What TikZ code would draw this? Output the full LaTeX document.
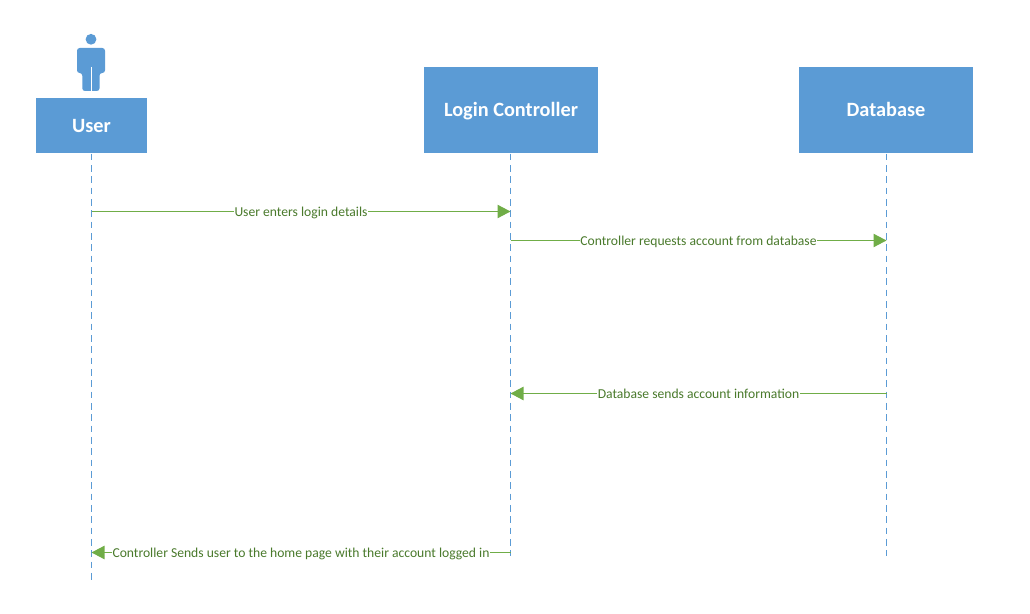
\documentclass[tikz,border=0pt]{standalone}
\usepackage{fontspec}
\setmainfont{Carlito}
\usetikzlibrary{positioning,calc,arrows.meta}
\definecolor{boxblue}{HTML}{5B9BD5}
\definecolor{msggreen}{HTML}{70AD47}
\definecolor{msgtext}{HTML}{4A7A2C}
\tikzset{
	actor/.style={fill=boxblue, text=white, font=\fontsize{11.55}{13}\selectfont\bfseries, minimum height=#1, inner sep=0pt, text height=9.7pt, text depth=2.6pt, anchor=north},
	lifeline/.style={draw=boxblue, line width=0.6pt, dash pattern=on 3.8pt off 2.65pt},
	message/.style={draw=msggreen, line width=0.6pt, -{Triangle[length=7.4pt,width=7.6pt]}},
	msglabel/.style={fill=white, text=msgtext, font=\fontsize{7.75}{9}\selectfont, inner xsep=0.5pt, inner ysep=1pt, text height=5.6pt, text depth=0pt}
}
\begin{document}
\begin{tikzpicture}[x=0.02cm, y=-0.02cm]
				
				% page
				\useasboundingbox (0,0) rectangle (1030,614);
				
				% one lifeline under box #1 at x #2, down to y #3, end named #4
				\newcommand{\lifedown}[4]{%
					\coordinate (#4) at (#2,#3);
					\draw[lifeline] (#1.south -| #4) -- (#4);
				}
				
				% boxes
				\node[actor=1.1cm, minimum width=2.22cm] (user) at (91.5,98) {User};
				\node[actor=1.72cm, minimum width=3.48cm] (login) at (511,67) {Login Controller};
				\node[actor=1.72cm, minimum width=3.48cm] (db) at (886,67) {Database};
				
				% stick figure above the user
				\fill[boxblue] (91,39.3) circle[radius=5.4];
				\fill[boxblue, rounded corners=1.5] (77,73) -- (77,48) -- (105,48) -- (105,73) -- (99.5,73) -- (99.5,91) -- (82.3,91) -- (82.3,73) -- cycle;
				\draw[white, line width=0.5pt] (91,67) -- (91,91.5);
				
				% lifelines
				\lifedown{user}{91.5}{581}{userend}
				\lifedown{login}{510.5}{556}{loginend}
				\lifedown{db}{886.5}{556}{dbend}
				
				% anchors on the lifelines
				\coordinate (u1) at (userend |- 0,211.5);
				\coordinate (l1) at (loginend |- 0,211.5);
				\coordinate (l2) at (loginend |- 0,240.5);
				\coordinate (d2) at (dbend |- 0,240.5);
				\coordinate (d3) at (dbend |- 0,393.5);
				\coordinate (l3) at (loginend |- 0,393.5);
				\coordinate (l4) at (loginend |- 0,552.5);
				\coordinate (u4) at (userend |- 0,552.5);
				
				% messages
				\draw[message] (u1) -- node[msglabel] (m1) {User enters login details} (l1);
				\draw[message] (l2) -- node[msglabel] (m2) {Controller requests account from database} (d2);
				\draw[message] (d3) -- node[msglabel] (m3) {Database sends account information} (l3);
				\draw[message] (l4) -- node[msglabel] (m4) {Controller Sends user to the home page with their account logged in} (u4);
				
			\end{tikzpicture}
\end{document}
